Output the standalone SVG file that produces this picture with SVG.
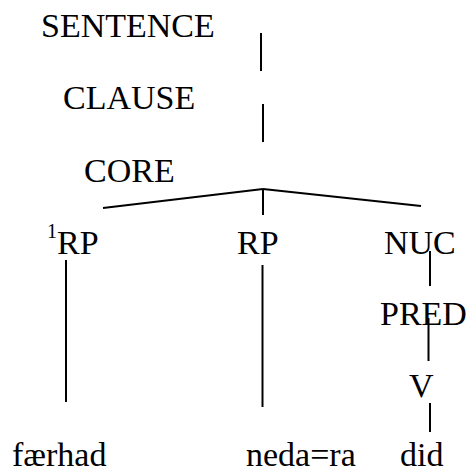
<svg xmlns="http://www.w3.org/2000/svg" width="468" height="474" viewBox="0 0 468 474">
<style>
text{font-size:34px;fill:#000}
.sup{font-size:20px}
line{stroke:#000;stroke-width:2;stroke-linecap:butt}
</style>
<rect width="468" height="474" fill="#fff"/>
<g id="connectors">
<line x1="261" y1="33" x2="261" y2="71"/>
<line x1="263" y1="104" x2="263" y2="142"/>
<line x1="103" y1="208" x2="263" y2="189"/>
<line x1="263" y1="189" x2="421" y2="206"/>
<line x1="263" y1="189" x2="263" y2="215"/>
<line x1="66" y1="260" x2="66" y2="402"/>
<line x1="262.5" y1="265" x2="262.5" y2="407"/>
<line x1="430" y1="251" x2="430" y2="286"/>
<line x1="428.5" y1="318" x2="428.5" y2="361"/>
<line x1="430" y1="403" x2="430" y2="432"/>
</g>
<g font-family="'Liberation Serif', 'Times New Roman', serif">
<g id="n-sentence"><text x="41" y="37">SENTENCE</text></g>
<g id="n-clause"><text x="63" y="109">CLAUSE</text></g>
<g id="n-core"><text x="84" y="182">CORE</text></g>
<g id="n-rp1"><text x="47" y="238" class="sup">1</text><text x="57" y="254">RP</text></g>
<g id="n-rp2"><text x="237" y="254">RP</text></g>
<g id="n-nuc"><text x="384" y="254">NUC</text></g>
<g id="n-pred"><text x="380" y="325">PRED</text></g>
<g id="n-v"><text x="409" y="397">V</text></g>
<g id="n-farhad"><text x="12" y="466">færhad</text></g>
<g id="n-neda"><text x="246" y="466">neda=ra</text></g>
<g id="n-did"><text x="400" y="466">did</text></g>
</g>
</svg>
